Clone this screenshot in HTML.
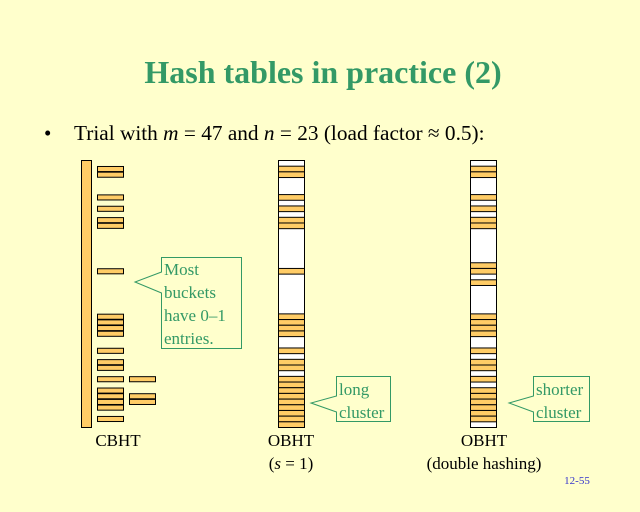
<!DOCTYPE html>
<html><head><meta charset="utf-8"><style>
body{margin:0;background:#ffffcc;}
svg{display:block}
</style></head><body>
<svg id="s" width="640" height="512" xmlns="http://www.w3.org/2000/svg" font-family="Liberation Serif, serif">
<rect width="640" height="512" fill="#ffffcc"/>
<text x="323" y="83" text-anchor="middle" font-size="32" font-weight="bold" fill="#339966">Hash tables in practice (2)</text>
<text x="44" y="140" font-size="21" fill="#000">•</text>
<text x="74" y="140" font-size="21.3" fill="#000">Trial with <tspan font-style="italic">m</tspan> = 47 and <tspan font-style="italic">n</tspan> = 23 (load factor ≈ 0.5):</text>
<rect x="81.5" y="160.5" width="10" height="267" fill="#ffcc66" stroke="#000"/>
<rect x="278.5" y="160.5" width="26" height="267" fill="#fff" stroke="#000"/>
<rect x="470.5" y="160.5" width="26" height="267" fill="#fff" stroke="#000"/>
<g id="g"></g>
<g fill="#ffffcc" stroke="#339966" stroke-width="1">
<path d="M161.5,257.5 H241.5 V348.5 H161.5 V293 L135,282 L161.5,272 Z"/>
<path d="M336.5,376.5 H390.5 V421.5 H336.5 V412 L311,403 L336.5,396 Z"/>
<path d="M533.5,376.5 H589.5 V421.5 H533.5 V412 L509,403 L533.5,396 Z"/>
</g>
<g font-size="17" fill="#339966">
<text x="164" y="275">Most</text><text x="164" y="298">buckets</text><text x="164" y="321">have 0–1</text><text x="164" y="344">entries.</text>
<text x="339" y="395">long</text><text x="339" y="418">cluster</text>
<text x="536" y="395">shorter</text><text x="536" y="418">cluster</text>
</g>
<g font-size="17" fill="#000" text-anchor="middle">
<text x="118" y="446">CBHT</text>
<text x="291" y="446">OBHT</text><text x="291" y="469">(<tspan font-style="italic">s</tspan> = 1)</text>
<text x="484" y="446">OBHT</text><text x="484" y="469">(double hashing)</text>
</g>
<text x="577" y="484" font-size="11" fill="#3333cc" text-anchor="middle">12-55</text>
</svg>
<script>
var g=document.getElementById('g'),h=267/47,y0=160.5,out='';
function r(x,y,w,hh,f){out+='<rect x="'+x+'" y="'+y.toFixed(2)+'" width="'+w+'" height="'+hh.toFixed(2)+'" fill="'+f+'" stroke="#000" stroke-width="1"/>';}
var A=[1,2,6,8,10,11,19,27,28,29,30,33,35,36,38,39,40,41,42,43,44,45,46];
var B=[1,2,6,8,10,11,18,19,21,27,28,29,30,33,35,36,38,40,41,42,43,44,45];
A.forEach(function(i){r(278.5,y0+i*h,26,h,'#ffcc66');});
B.forEach(function(i){r(470.5,y0+i*h,26,h,'#ffcc66');});
var C=[1,2,6,8,10,11,19,27,28,29,30,33,35,36,38,40,41,42,43,45];
C.forEach(function(i){r(97.5,y0+i*h+0.3,26,h-0.6,'#ffcc66');});
[38,41,42].forEach(function(i){r(129.5,y0+i*h+0.3,26,h-0.6,'#ffcc66');});
g.innerHTML=out;
</script>
</body></html>
